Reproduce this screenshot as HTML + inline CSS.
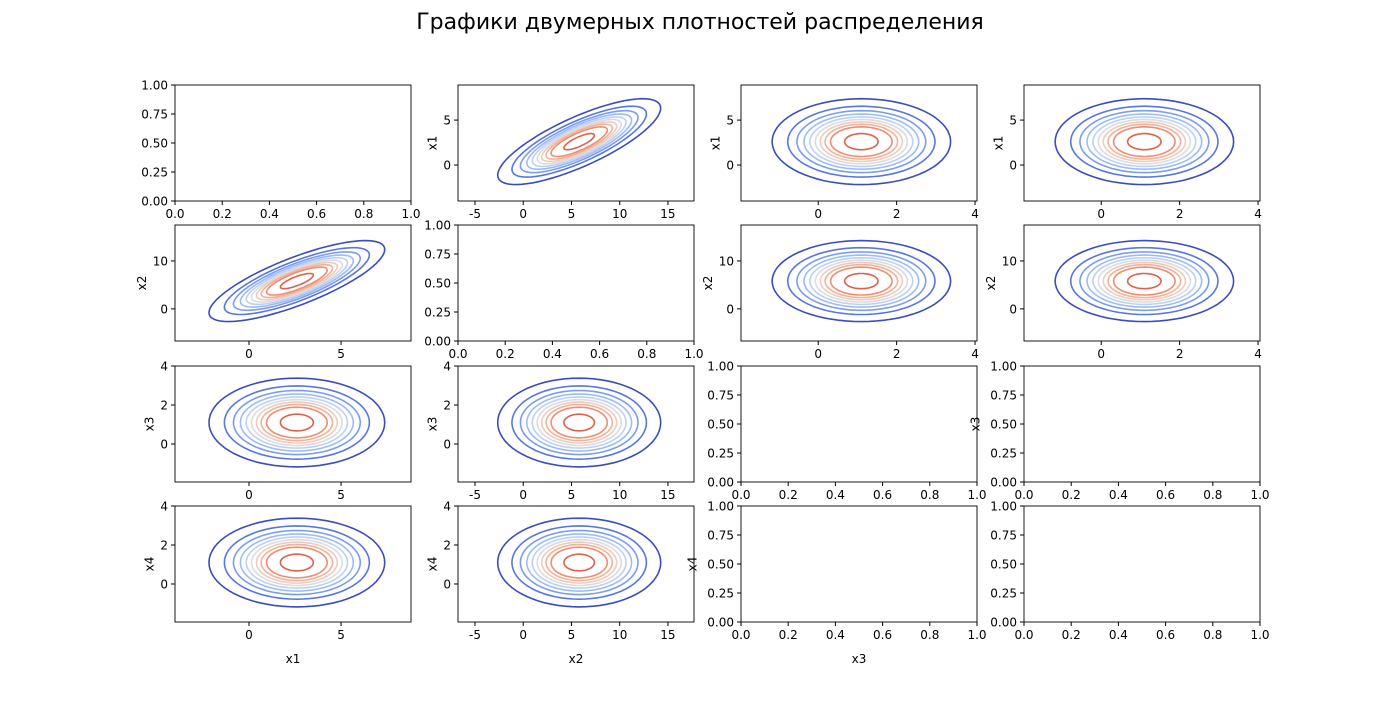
<!DOCTYPE html>
<html><head><meta charset="utf-8"><style>
body{margin:0;background:#fff}
svg text{font-family:"DejaVu Sans","Liberation Sans",sans-serif;font-size:12px;fill:#000}
</style></head><body>
<svg id="fig" width="1400" height="700" xmlns="http://www.w3.org/2000/svg">
<text x="700" y="29" text-anchor="middle" style="font-size:22px">Графики двумерных плотностей распределения</text>
</svg>
<script>
// variable stats: x1, x2, x3, x4
const varNames = ["x1","x2","x3","x4"];
const varMeans = [2.6, 5.8, 1.1, 1.1];
const varSds = [1.95, 3.45, 0.93, 0.93];
const corr12 = 0.78;
const axisMin = [-4.02, -6.76, -1.97, -1.97];
const axisMax = [8.8, 17.7, 4.05, 4.05];
const yAxisMin = [-4.0, -6.7, -1.95, -1.95];
const yAxisMax = [8.9, 17.5, 4.0, 4.0];
const xTicks = [[0,5],[-5,0,5,10,15],[0,2,4],[0,2,4]];
const yTicks = [[0,5],[0,10],[0,2,4],[0,2,4]];
const levelMass = [0.95,0.87,0.79,0.71,0.63,0.55,0.47,0.39,0.3,0.1];
const emptyXTicks = [0,0.2,0.4,0.6,0.8,1.0];
const emptyYTicks = [0,0.25,0.5,0.75,1.0];

const colX=[175,458,741,1024], rowY=[85,225,366,506], W=236, H=116;
const svg=document.getElementById('fig');
const NS="http://www.w3.org/2000/svg";
function mk(tag,attrs,parent){const e=document.createElementNS(NS,tag);for(const k in attrs)e.setAttribute(k,attrs[k]);(parent||svg).appendChild(e);return e;}
function lerp(a,b,t){return a+(b-a)*t}
const cw=[[59,76,192],[98,130,234],[141,176,254],[184,208,249],[221,221,221],[245,196,173],[244,154,123],[222,96,77]];
function color(t){const p=t*(cw.length-1),i=Math.min(Math.floor(p),cw.length-2),f=p-i;
 return `rgb(${[0,1,2].map(k=>Math.round(lerp(cw[i][k],cw[i+1][k],f))).join(',')})`;}
function corr(a,b){if((a===0&&b===1)||(a===1&&b===0))return corr12;return 0;}
const cols=[0,1,2,3], rows=[0,1,2,3];
const ylab=[[null,"x1","x1","x1"],["x2",null,"x2","x2"],["x3","x3",null,"x3"],["x4","x4","x4",null]];
const xlab=[null,null,null,null,null,null,null,null,null,null,null,null,"x1","x2","x3",null];
const empty=(r,c)=>r===c||(r>=2&&c>=2);
let clipN=0;
rows.forEach(r=>cols.forEach(c=>{
 const g=mk('g',{});
 
 
 const x0=colX[c],y0=rowY[r];
 const isE=empty(r,c);
 const xv=c, yv=r;
 let sx,sy,xt,yt,xfmt,yfmt;
 if(isE){sx=v=>x0+v*W;sy=v=>y0+H-v*H;xt=emptyXTicks;yt=emptyYTicks;xfmt=v=>v.toFixed(1);yfmt=v=>v.toFixed(2);}
 else{sx=v=>x0+(v-axisMin[xv])/(axisMax[xv]-axisMin[xv])*W;
  sy=v=>y0+H-(v-yAxisMin[yv])/(yAxisMax[yv]-yAxisMin[yv])*H;
  xt=xTicks[xv];yt=yTicks[yv];xfmt=v=>String(v);yfmt=v=>String(v);}
 if(!isE){
  const id='clip'+(clipN++);
  const cp=mk('clipPath',{id},g);mk('rect',{x:x0,y:y0,width:W,height:H},cp);
  const cg=mk('g',{'clip-path':`url(#${id})`},g);
  const mx=varMeans[xv],my=varMeans[yv],sdx=varSds[xv],sdy=varSds[yv],rho=corr(xv,yv);
  levelMass.forEach((m,k)=>{
   const rad=Math.sqrt(-2*Math.log(1-m));let d='';
   for(let i=0;i<=72;i++){const a=i/72*2*Math.PI;
    const u=Math.cos(a),w=Math.sin(a);
    const vx=mx+rad*sdx*u, vy=my+rad*sdy*(rho*u+Math.sqrt(1-rho*rho)*w);
    d+=(i?'L':'M')+sx(vx).toFixed(1)+','+sy(vy).toFixed(1);}
   const p=mk('path',{d:d+'Z',fill:'none',stroke:color(k/(levelMass.length-1)),'stroke-width':1.6},cg);
   
   
  });
 }
 mk('rect',{x:x0,y:y0,width:W,height:H,fill:'none',stroke:'#000','stroke-width':0.9},g);
 let maxw=0;
 xt.forEach(v=>{const X=sx(v);mk('line',{x1:X,x2:X,y1:y0+H,y2:y0+H+4,stroke:'#000'},g);
  const t=mk('text',{x:X,y:y0+H+17,'text-anchor':'middle'},g);t.textContent=xfmt(v);
  });
 yt.forEach(v=>{const Y=sy(v);mk('line',{x1:x0-4,x2:x0,y1:Y,y2:Y,stroke:'#000'},g);
  const s=yfmt(v);maxw=Math.max(maxw,s.length*7.6);
  const t=mk('text',{x:x0-7,y:Y+4.5,'text-anchor':'end'},g);t.textContent=s;
  });
 const yl=ylab[r][c];
 if(yl){const lx=x0-maxw-14,ly=y0+H/2;
  const t=mk('text',{x:lx,y:ly,'text-anchor':'middle',transform:`rotate(-90 ${lx} ${ly})`},g);t.textContent=yl;
  }
 const xl=xlab[r*4+c];
 if(xl){const t=mk('text',{x:x0+W/2,y:y0+H+41,'text-anchor':'middle'},g);t.textContent=xl;
  }
}));
</script>
</body></html>
